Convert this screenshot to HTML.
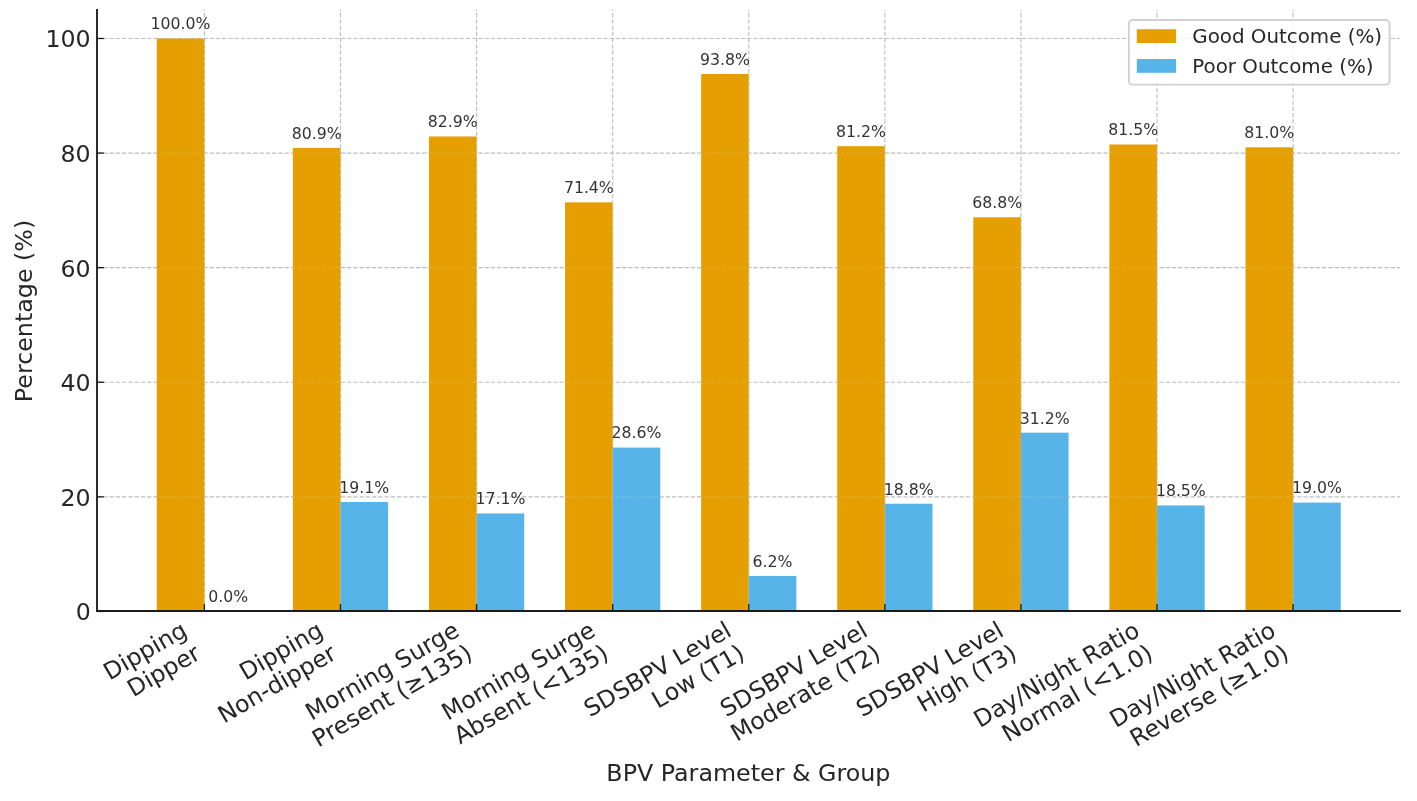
<!DOCTYPE html>
<html lang="en">
<head>
<meta charset="utf-8">
<title>BPV Parameter &amp; Group – Good vs Poor Outcome (%)</title>
<style>
html,body{margin:0;padding:0;background:#ffffff;}
body{width:1417px;height:801px;overflow:hidden;font-family:"DejaVu Sans","Liberation Sans",sans-serif;}
#chart{display:block;will-change:transform;}
#chart text{white-space:pre;}
</style>
</head>
<body>
<svg id="chart" width="1417" height="801" viewBox="0 0 1417 801" role="img" aria-label="Grouped bar chart of good and poor outcome percentages by BPV parameter and group" font-family="'DejaVu Sans','Liberation Sans',sans-serif">
<rect id="figure-bg" width="1417" height="801" fill="#ffffff"/>
<defs><clipPath id="bar-clip"><rect x="156.77" y="38.48" width="47.63" height="572.52"/><rect x="292.86" y="147.92" width="47.63" height="463.08"/><rect x="428.95" y="136.46" width="47.63" height="474.54"/><rect x="565.04" y="202.35" width="47.63" height="408.65"/><rect x="701.13" y="74" width="47.63" height="537"/><rect x="837.22" y="146.2" width="47.63" height="464.8"/><rect x="973.31" y="217.25" width="47.63" height="393.75"/><rect x="1109.4" y="144.48" width="47.63" height="466.52"/><rect x="1245.49" y="147.34" width="47.63" height="463.66"/><rect x="340.49" y="502.01" width="47.63" height="108.99"/><rect x="476.58" y="513.47" width="47.63" height="97.53"/><rect x="612.67" y="447.58" width="47.63" height="163.42"/><rect x="748.76" y="575.93" width="47.63" height="35.07"/><rect x="884.85" y="503.73" width="47.63" height="107.27"/><rect x="1020.94" y="432.68" width="47.63" height="178.32"/><rect x="1157.03" y="505.45" width="47.63" height="105.55"/><rect x="1293.12" y="502.59" width="47.63" height="108.41"/></clipPath></defs>
<g id="grid" stroke="#b0b0b0" stroke-opacity="0.82" stroke-width="1.15" stroke-dasharray="4.36 1.89" fill="none">
<line x1="204.4" y1="611" x2="204.4" y2="9.8"/>
<line x1="340.49" y1="611" x2="340.49" y2="9.8"/>
<line x1="476.58" y1="611" x2="476.58" y2="9.8"/>
<line x1="612.67" y1="611" x2="612.67" y2="9.8"/>
<line x1="748.76" y1="611" x2="748.76" y2="9.8"/>
<line x1="884.85" y1="611" x2="884.85" y2="9.8"/>
<line x1="1020.94" y1="611" x2="1020.94" y2="9.8"/>
<line x1="1157.03" y1="611" x2="1157.03" y2="9.8"/>
<line x1="1293.12" y1="611" x2="1293.12" y2="9.8"/>
<line x1="97" y1="611.45" x2="1399.9" y2="611.45"/>
<line x1="97" y1="496.86" x2="1399.9" y2="496.86"/>
<line x1="97" y1="382.26" x2="1399.9" y2="382.26"/>
<line x1="97" y1="267.67" x2="1399.9" y2="267.67"/>
<line x1="97" y1="153.07" x2="1399.9" y2="153.07"/>
<line x1="97" y1="38.48" x2="1399.9" y2="38.48"/>
</g>
<g id="bars-good" fill="#E69F00">
<rect x="156.77" y="38.48" width="47.63" height="572.52"/>
<rect x="292.86" y="147.92" width="47.63" height="463.08"/>
<rect x="428.95" y="136.46" width="47.63" height="474.54"/>
<rect x="565.04" y="202.35" width="47.63" height="408.65"/>
<rect x="701.13" y="74" width="47.63" height="537"/>
<rect x="837.22" y="146.2" width="47.63" height="464.8"/>
<rect x="973.31" y="217.25" width="47.63" height="393.75"/>
<rect x="1109.4" y="144.48" width="47.63" height="466.52"/>
<rect x="1245.49" y="147.34" width="47.63" height="463.66"/>
</g>
<g id="bars-poor" fill="#56B4E9">
<rect x="340.49" y="502.01" width="47.63" height="108.99"/>
<rect x="476.58" y="513.47" width="47.63" height="97.53"/>
<rect x="612.67" y="447.58" width="47.63" height="163.42"/>
<rect x="748.76" y="575.93" width="47.63" height="35.07"/>
<rect x="884.85" y="503.73" width="47.63" height="107.27"/>
<rect x="1020.94" y="432.68" width="47.63" height="178.32"/>
<rect x="1157.03" y="505.45" width="47.63" height="105.55"/>
<rect x="1293.12" y="502.59" width="47.63" height="108.41"/>
</g>
<g id="grid-over-bars" clip-path="url(#bar-clip)" stroke="#e0e0e0" stroke-opacity="0.22" stroke-width="1" stroke-dasharray="4.36 1.89" fill="none">
<line x1="204.4" y1="611" x2="204.4" y2="9.8"/>
<line x1="340.49" y1="611" x2="340.49" y2="9.8"/>
<line x1="476.58" y1="611" x2="476.58" y2="9.8"/>
<line x1="612.67" y1="611" x2="612.67" y2="9.8"/>
<line x1="748.76" y1="611" x2="748.76" y2="9.8"/>
<line x1="884.85" y1="611" x2="884.85" y2="9.8"/>
<line x1="1020.94" y1="611" x2="1020.94" y2="9.8"/>
<line x1="1157.03" y1="611" x2="1157.03" y2="9.8"/>
<line x1="1293.12" y1="611" x2="1293.12" y2="9.8"/>
<line x1="97" y1="611.45" x2="1399.9" y2="611.45"/>
<line x1="97" y1="496.86" x2="1399.9" y2="496.86"/>
<line x1="97" y1="382.26" x2="1399.9" y2="382.26"/>
<line x1="97" y1="267.67" x2="1399.9" y2="267.67"/>
<line x1="97" y1="153.07" x2="1399.9" y2="153.07"/>
<line x1="97" y1="38.48" x2="1399.9" y2="38.48"/>
</g>
<g id="ticks" stroke="#1a1a1a" stroke-width="1.3" fill="none">
<line x1="204.4" y1="611" x2="204.4" y2="604.1"/>
<line x1="340.49" y1="611" x2="340.49" y2="604.1"/>
<line x1="476.58" y1="611" x2="476.58" y2="604.1"/>
<line x1="612.67" y1="611" x2="612.67" y2="604.1"/>
<line x1="748.76" y1="611" x2="748.76" y2="604.1"/>
<line x1="884.85" y1="611" x2="884.85" y2="604.1"/>
<line x1="1020.94" y1="611" x2="1020.94" y2="604.1"/>
<line x1="1157.03" y1="611" x2="1157.03" y2="604.1"/>
<line x1="1293.12" y1="611" x2="1293.12" y2="604.1"/>
<line x1="97" y1="611.45" x2="103.9" y2="611.45"/>
<line x1="97" y1="496.86" x2="103.9" y2="496.86"/>
<line x1="97" y1="382.26" x2="103.9" y2="382.26"/>
<line x1="97" y1="267.67" x2="103.9" y2="267.67"/>
<line x1="97" y1="153.07" x2="103.9" y2="153.07"/>
<line x1="97" y1="38.48" x2="103.9" y2="38.48"/>
</g>
<g id="spines" stroke="#1a1a1a" stroke-width="1.85" stroke-linecap="square" fill="none">
<line x1="97" y1="611" x2="97" y2="9.8"/>
<line x1="97" y1="611" x2="1399.9" y2="611"/>
</g>
<g id="xtick-labels" font-size="23.68" fill="#262626">
<text transform="translate(109.45 680.64) rotate(-30)">Dipping</text>
<text transform="translate(133.37 697.44) rotate(-30)">Dipper</text>
<text transform="translate(245.54 680.64) rotate(-30)">Dipping</text>
<text transform="translate(223.95 723.72) rotate(-30)">Non-dipper</text>
<text transform="translate(311.61 721.06) rotate(-30)">Morning Surge</text>
<text transform="translate(318.35 747.79) rotate(-30)">Present (≥135)</text>
<text transform="translate(447.7 721.06) rotate(-30)">Morning Surge</text>
<text transform="translate(459.99 744.58) rotate(-30)">Absent (&lt;135)</text>
<text transform="translate(590.1 717.42) rotate(-30)">SDSBPV Level</text>
<text transform="translate(657.82 708.93) rotate(-30)">Low (T1)</text>
<text transform="translate(726.19 717.42) rotate(-30)">SDSBPV Level</text>
<text transform="translate(736.77 741.93) rotate(-30)">Moderate (T2)</text>
<text transform="translate(862.28 717.42) rotate(-30)">SDSBPV Level</text>
<text transform="translate(923.26 712.83) rotate(-30)">High (T3)</text>
<text transform="translate(979.67 728.22) rotate(-30)">Day/Night Ratio</text>
<text transform="translate(1008.06 742.44) rotate(-30)">Normal (&lt;1.0)</text>
<text transform="translate(1115.76 728.22) rotate(-30)">Day/Night Ratio</text>
<text transform="translate(1135.92 747.19) rotate(-30)">Reverse (≥1.0)</text>
</g>
<g id="ytick-labels" font-size="23.68" fill="#262626" text-anchor="end">
<text x="90.69" y="620.45">0</text>
<text x="90.69" y="505.85">20</text>
<text x="90.69" y="391.26">40</text>
<text x="90.69" y="276.66">60</text>
<text x="90.69" y="162.07">80</text>
<text x="90.69" y="47.47">100</text>
</g>
<g id="value-labels" font-size="15.72" fill="#333333" text-anchor="middle">
<text x="180.58" y="29.31">100.0%</text>
<text x="316.67" y="138.75">80.9%</text>
<text x="452.76" y="127.29">82.9%</text>
<text x="588.85" y="193.18">71.4%</text>
<text x="724.94" y="64.84">93.8%</text>
<text x="861.03" y="137.03">81.2%</text>
<text x="997.12" y="208.08">68.8%</text>
<text x="1133.21" y="135.31">81.5%</text>
<text x="1269.3" y="138.18">81.0%</text>
<text x="228.22" y="602.29">0.0%</text>
<text x="364.31" y="492.85">19.1%</text>
<text x="500.4" y="504.31">17.1%</text>
<text x="636.49" y="438.42">28.6%</text>
<text x="772.58" y="566.76">6.2%</text>
<text x="908.67" y="494.57">18.8%</text>
<text x="1044.76" y="423.52">31.2%</text>
<text x="1180.85" y="496.29">18.5%</text>
<text x="1316.94" y="493.42">19.0%</text>
</g>
<g id="legend">
<rect x="1128.9" y="20.0" width="260.7" height="64.6" rx="3.6" ry="3.6" fill="#ffffff" fill-opacity="0.8" stroke="#cccccc" stroke-opacity="0.9" stroke-width="1.9"/>
<rect x="1136.8" y="29.2" width="39.3" height="13.8" fill="#E69F00"/>
<rect x="1136.8" y="59.0" width="39.3" height="13.8" fill="#56B4E9"/>
<text x="1192.28" y="42.75" font-size="19.85" fill="#262626">Good Outcome (%)</text>
<text x="1192.28" y="72.6" font-size="19.85" fill="#262626">Poor Outcome (%)</text>
</g>
<text id="ylabel" transform="translate(32 311) rotate(-90)" text-anchor="middle" font-size="23.78" fill="#262626">Percentage (%)</text>
<text id="xlabel" x="748.4" y="780.6" text-anchor="middle" font-size="23.78" fill="#262626">BPV Parameter &amp; Group</text>
</svg>
</body>
</html>
